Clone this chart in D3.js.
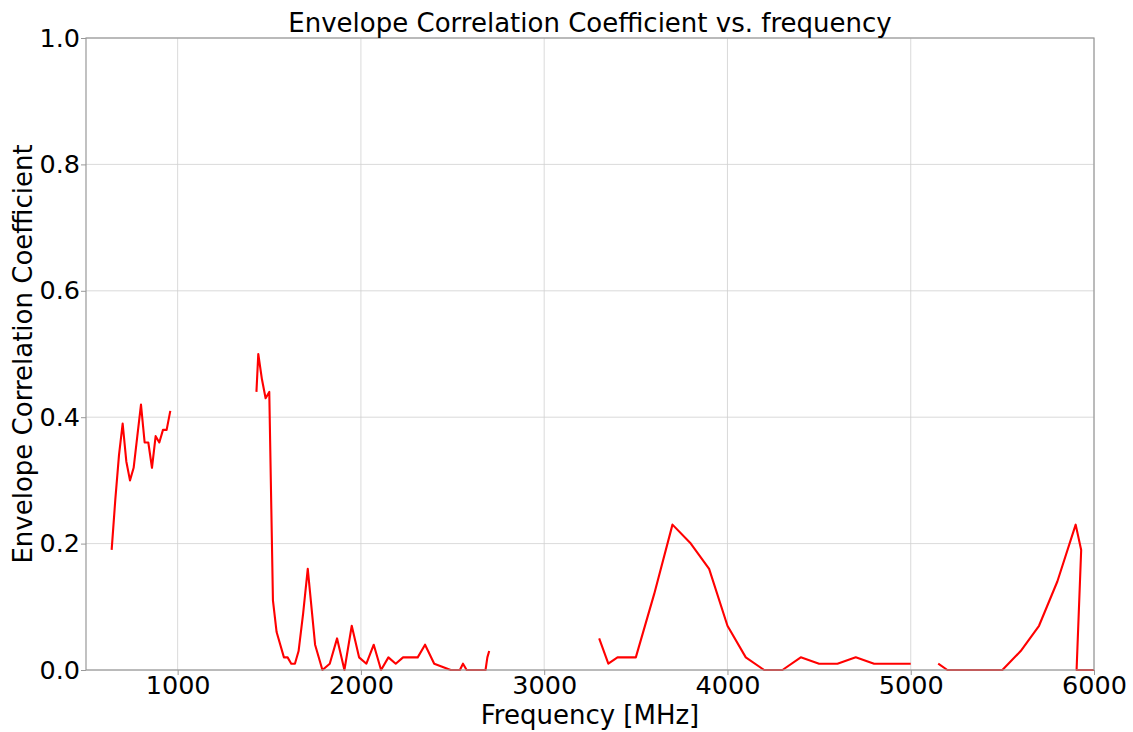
<!DOCTYPE html>
<html><head><meta charset="utf-8">
<script src="https://d3js.org/d3.v7.min.js"></script>
<style>body{margin:0;background:#fff}svg text{font-family:"DejaVu Sans",sans-serif;fill:#000}</style>
</head><body><svg id="c" width="1133" height="732"></svg>
<script>
const seg1Freq = [640,660,680,700,720,740,760,780,800,820,840,860,880,900,920,940,960];
const seg1Ecc  = [0.19,0.27,0.34,0.39,0.33,0.30,0.32,0.37,0.42,0.36,0.36,0.32,0.37,0.36,0.38,0.38,0.41];
const seg2Freq = [1430,1440,1460,1480,1500,1520,1540,1580,1600,1620,1640,1660,1685,1710,1750,1790,1830,1870,1910,1950,1990,2030,2070,2110,2150,2190,2230,2270,2310,2350,2400,2490,2540,2557,2577,2680,2690,2700];
const seg2Ecc  = [0.44,0.50,0.46,0.43,0.44,0.11,0.06,0.02,0.02,0.01,0.01,0.03,0.09,0.16,0.04,0.00,0.01,0.05,0.00,0.07,0.02,0.01,0.04,0.00,0.02,0.01,0.02,0.02,0.02,0.04,0.01,0.00,0.00,0.01,0.00,0.00,0.02,0.03];
const seg3Freq = [3300,3350,3400,3500,3600,3700,3800,3900,4000,4100,4200,4300,4400,4500,4600,4700,4800,4900,5000];
const seg3Ecc  = [0.05,0.01,0.02,0.02,0.12,0.23,0.20,0.16,0.07,0.02,0.00,0.00,0.02,0.01,0.01,0.02,0.01,0.01,0.01];
const seg4Freq = [5150,5200,5300,5400,5500,5600,5700,5800,5900,5930,5905,6000];
const seg4Ecc  = [0.01,0.00,0.00,0.00,0.00,0.03,0.07,0.14,0.23,0.19,0.00,0.00];
const xTicks = [1000,2000,3000,4000,5000,6000];
const yTicks = [0.0,0.2,0.4,0.6,0.8,1.0];

const svg = d3.select("#c");
const L=86,R=1094,T=38,B=670;
const x = d3.scaleLinear().domain([500,6000]).range([L,R]);
const y = d3.scaleLinear().domain([0,1]).range([B,T]);

// grid
svg.append("g").selectAll("line").data(xTicks).join("line")
  .attr("x1",d=>x(d)).attr("x2",d=>x(d)).attr("y1",T).attr("y2",B)
  .attr("stroke","#d0d0d0").attr("stroke-width",0.8);
svg.append("g").selectAll("line").data(yTicks).join("line")
  .attr("x1",L).attr("x2",R).attr("y1",d=>y(d)).attr("y2",d=>y(d))
  .attr("stroke","#d0d0d0").attr("stroke-width",0.8);

// data
svg.append("clipPath").attr("id","clip").append("rect").attr("x",L).attr("y",T-2).attr("width",R-L).attr("height",B-T+4);
const segs = [[seg1Freq,seg1Ecc],[seg2Freq,seg2Ecc],[seg3Freq,seg3Ecc],[seg4Freq,seg4Ecc]];
const line = d3.line().x(d=>x(d[0])).y(d=>y(d[1]));
svg.append("g").attr("clip-path","url(#clip)").selectAll("path").data(segs).join("path")
  .attr("d",s=>line(s[0].map((f,i)=>[f,s[1][i]])))
  .attr("fill","none").attr("stroke","#ff0000").attr("stroke-width",2.1).attr("stroke-linejoin","round");

// axes
const xa = svg.append("g").attr("transform",`translate(0,${B})`)
  .call(d3.axisBottom(x).tickValues(xTicks).tickSize(5).tickPadding(1).tickFormat(d3.format("d")));
const ya = svg.append("g").attr("transform",`translate(${L},0)`)
  .call(d3.axisLeft(y).tickValues(yTicks).tickSize(5).tickPadding(1).tickFormat(d3.format(".1f")));
[xa,ya].forEach(a=>{a.select(".domain").remove();a.selectAll("line").attr("stroke","#999");
  a.selectAll("text").style("font-size","25.5px").attr("font-family","DejaVu Sans");});
// spines
svg.append("rect").attr("x",L).attr("y",T).attr("width",R-L).attr("height",B-T)
  .attr("fill","none").attr("stroke","#999").attr("stroke-width",1.2);

svg.append("text").attr("x",(L+R)/2).attr("y",32).attr("text-anchor","middle").style("font-size","26px")
  .text("Envelope Correlation Coefficient vs. frequency");
svg.append("text").attr("x",(L+R)/2).attr("y",724).attr("text-anchor","middle").style("font-size","26px")
  .text("Frequency [MHz]");
svg.append("text").attr("transform",`translate(32,${(T+B)/2}) rotate(-90)`).attr("text-anchor","middle").style("font-size","26px")
  .text("Envelope Correlation Coefficient");
</script></body></html>
